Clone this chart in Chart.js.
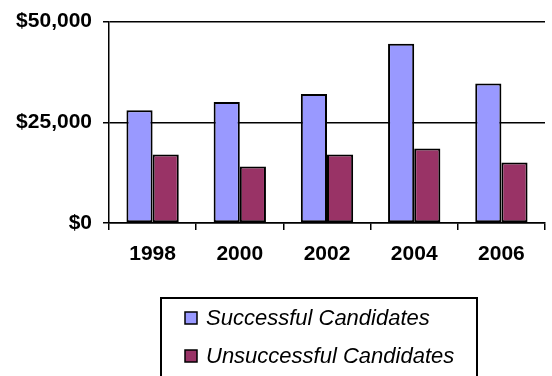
<!DOCTYPE html>
<html lang="en">
<head>
  <meta charset="UTF-8">
  <title>Candidate Spending</title>
  <script src="https://cdn.jsdelivr.net/npm/chart.js@4.4.3/dist/chart.umd.min.js"></script>
  <style>
    body { margin: 0; background: #fff; }
    #wrap { width: 552px; height: 376px; }
  </style>
</head>
<body>
  <div id="wrap"><canvas id="spendChart" width="552" height="376"></canvas></div>

  <script>
    const years = ['1998', '2000', '2002', '2004', '2006'];
    const successful = [28000, 30000, 32000, 44500, 34600];
    const unsuccessful = [17000, 14000, 17000, 18500, 15000];
    const seriesNames = ['Successful Candidates', 'Unsuccessful Candidates'];

    const FONT = "'Liberation Sans', Arial, sans-serif";

    // boxed, stacked legend under the plot
    const boxLegend = {
      id: 'boxLegend',
      afterDraw(chart) {
        const ctx = chart.ctx;
        ctx.save();
        ctx.strokeStyle = '#000';
        ctx.lineWidth = 2;
        ctx.strokeRect(161, 298, 316, 90);
        ctx.font = 'italic 22px ' + FONT;
        ctx.textBaseline = 'alphabetic';
        chart.data.datasets.forEach((ds, i) => {
          const y = 312 + i * 38;
          ctx.fillStyle = ds.backgroundColor;
          ctx.fillRect(185, y, 12, 12);
          ctx.lineWidth = 1.5;
          ctx.strokeRect(185, y, 12, 12);
          ctx.fillStyle = '#000';
          ctx.fillText(ds.label, 206, y + 13);
        });
        ctx.restore();
      }
    };

    new Chart(document.getElementById('spendChart'), {
      type: 'bar',
      data: {
        labels: years,
        datasets: [
          {
            label: seriesNames[0],
            data: successful,
            backgroundColor: '#9999FF',
            borderColor: '#000',
            borderWidth: 2,
            borderSkipped: false
          },
          {
            label: seriesNames[1],
            data: unsuccessful,
            backgroundColor: '#993366',
            borderColor: '#000',
            borderWidth: 2,
            borderSkipped: false
          }
        ]
      },
      options: {
        responsive: false,
        animation: false,
        layout: { padding: { top: 19, right: 7, left: 0, bottom: 0 } },
        datasets: { bar: { categoryPercentage: 0.6, barPercentage: 1 } },
        plugins: {
          legend: { display: false },
          tooltip: { enabled: false }
        },
        scales: {
          x: {
            afterFit(scale) { scale.height = 153; },
            grid: {
              offset: true,
              drawOnChartArea: false,
              color: '#000',
              lineWidth: 1.5,
              tickLength: 7
            },
            border: { color: '#000', width: 1.5 },
            ticks: {
              color: '#000',
              padding: 12,
              font: { family: FONT, size: 21, weight: 'bold' }
            }
          },
          y: {
            min: 0,
            max: 50000,
            afterFit(scale) { scale.width = 109; },
            grid: { color: '#000', lineWidth: 1.5, tickLength: 6 },
            border: { color: '#000', width: 1.5 },
            ticks: {
              stepSize: 25000,
              color: '#000',
              padding: 11,
              font: { family: FONT, size: 21, weight: 'bold', lineHeight: 1 },
              callback: v => '$' + v.toLocaleString('en-US')
            }
          }
        }
      },
      plugins: [boxLegend]
    });
  </script>
</body>
</html>
